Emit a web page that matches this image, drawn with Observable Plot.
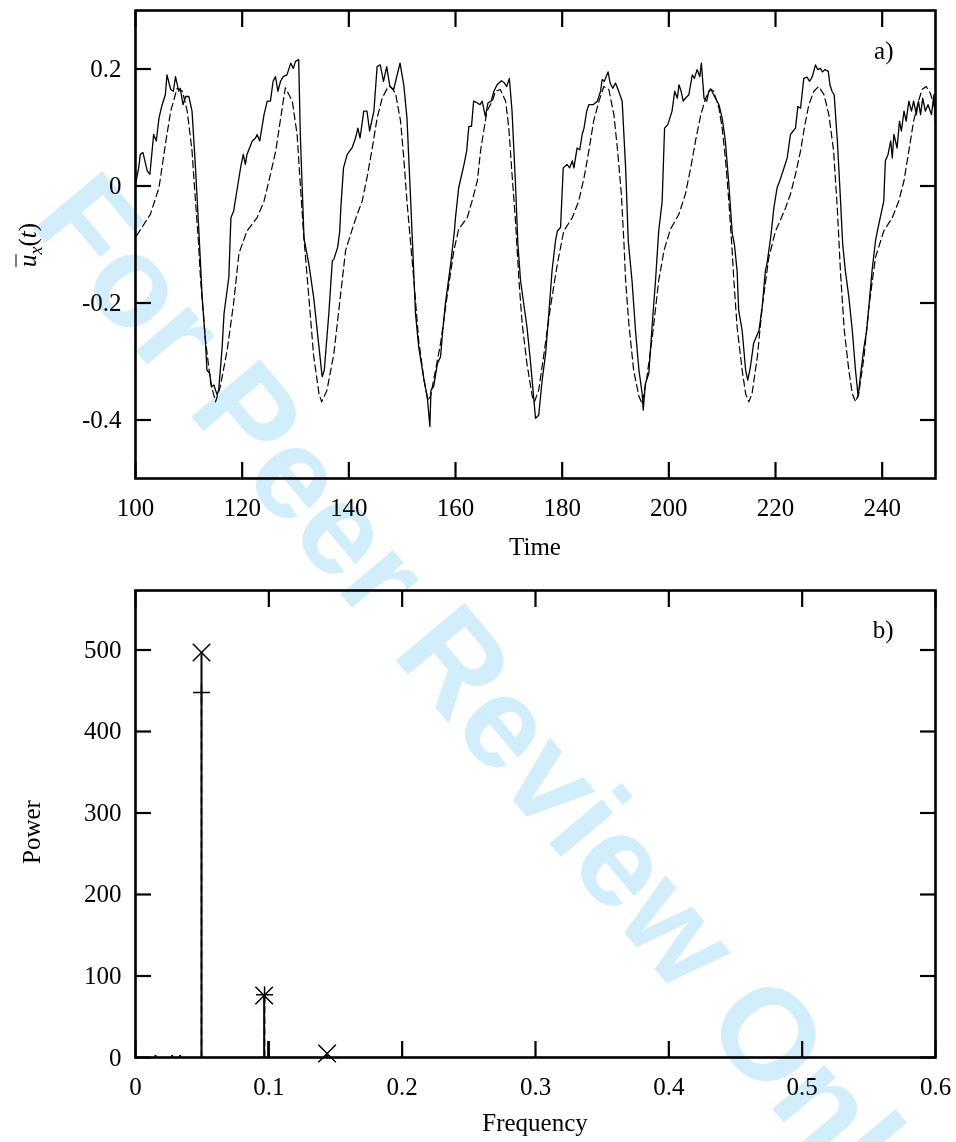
<!DOCTYPE html>
<html>
<head>
<meta charset="utf-8">
<script src="https://cdn.jsdelivr.net/npm/d3@7"></script>
<script src="https://cdn.jsdelivr.net/npm/@observablehq/plot@0.6"></script>
<style>
  html, body { margin: 0; padding: 0; background: #fff; }
  #wrap { position: relative; width: 956px; height: 1142px; overflow: hidden; font-family: "Liberation Serif", "DejaVu Serif", serif; }
  #wrap svg.plot-svg { position: absolute; left: 0; }
  .lbl { position: absolute; font-size: 25px; white-space: nowrap; color: #000; }
  #wm { position: absolute; left: 0; top: 0; pointer-events: none; mix-blend-mode: multiply; }
</style>
</head>
<body>
<div id="wrap"></div>
<script>
// ---------- Panel a) : time series ----------
const timeSolid = [100,100.6,100.9,101.4,102.2,102.7,103.4,103.9,104.4,105.0,105.6,105.9,106.6,107.1,107.5,108.1,108.4,108.9,109.4,110.0,110.6,111.25,111.9,112.5,113.1,113.4,113.9,114.25,114.7,115.3,115.6,116.25,116.6,117.5,117.8,117.9,118.4,119.1,119.7,120.2,120.6,120.9,121.9,122.5,122.8,123.3,124.1,124.7,125.3,125.8,126.25,126.7,127.2,127.7,128.4,129.1,129.6,130.0,130.6,130.9,131.6,132.5,133.4,134.4,135.0,135.4,136.25,136.9,137.2,137.9,138.3,138.5,139.0,139.7,140.6,141.25,141.7,142.1,142.8,143.4,143.9,144.7,145.3,145.9,146.5,147.1,147.7,148.4,149.6,150.3,150.9,151.6,151.9,152.5,153.1,154.1,154.7,155.2,155.4,155.9,156.6,157.2,157.5,158.1,159.1,159.8,160.0,160.6,160.9,161.6,162.1,162.5,163.0,163.4,164.1,164.6,165.0,165.6,166.1,166.7,167.2,167.8,168.6,169.2,169.6,170.1,170.6,171.25,171.7,172.2,173.4,174.1,174.7,175.0,175.6,176.25,176.9,177.5,178.1,178.75,179.1,179.7,180.2,180.9,181.4,181.9,182.2,182.8,183.3,183.75,184.1,184.6,185.0,185.8,186.6,187.2,187.5,187.9,188.6,189.0,189.5,190.0,190.6,191.25,191.9,192.4,193.1,193.75,194.4,195.0,195.2,195.6,196.25,196.9,197.5,198.1,198.75,199.2,199.8,200.6,201.1,201.6,201.9,202.3,202.7,203.1,203.75,204.4,204.8,205.3,205.8,206.1,206.6,207.1,207.5,207.9,208.75,209.4,210.0,210.6,211.25,211.9,212.3,212.8,213.1,213.75,214.4,214.8,215.3,215.9,216.9,217.5,218.1,218.4,219.1,219.7,220.3,220.8,221.6,222.2,222.8,223.3,223.75,224.2,224.7,225.3,225.9,226.4,226.9,227.5,227.9,228.4,228.8,229.3,229.9,230.2,230.6,231.0,231.6,232.2,232.6,233.1,233.75,234.4,235.0,235.5,235.9,236.6,237.1,237.5,238.1,238.75,239.1,240.3,240.6,241.1,241.6,241.9,242.2,242.8,243.25,243.6,244.1,244.5,245.0,245.5,245.9,246.4,246.8,247.2,247.6,248.1,248.6,249.25,249.7,250.0];
const uxSolid = [0.003,0.031,0.054,0.057,0.026,0.020,0.088,0.077,0.116,0.139,0.156,0.190,0.165,0.162,0.187,0.162,0.167,0.139,0.153,0.153,0.128,0.031,-0.080,-0.190,-0.264,-0.315,-0.320,-0.343,-0.340,-0.357,-0.349,-0.275,-0.218,-0.156,-0.077,-0.054,-0.043,-0.003,0.031,0.054,0.037,0.054,0.077,0.082,0.088,0.077,0.122,0.145,0.145,0.179,0.187,0.162,0.179,0.187,0.190,0.210,0.201,0.213,0.216,0.088,-0.090,-0.133,-0.190,-0.275,-0.326,-0.315,-0.218,-0.128,-0.125,-0.105,-0.077,-0.037,0.031,0.054,0.065,0.082,0.099,0.082,0.128,0.128,0.094,0.128,0.204,0.207,0.179,0.204,0.170,0.165,0.210,0.173,0.116,-0.026,-0.090,-0.218,-0.275,-0.332,-0.360,-0.411,-0.349,-0.343,-0.304,-0.292,-0.258,-0.201,-0.133,-0.077,-0.054,-0.003,0.009,0.037,0.060,0.102,0.102,0.145,0.142,0.139,0.145,0.119,0.142,0.145,0.162,0.173,0.180,0.176,0.170,0.184,0.128,0.003,-0.100,-0.162,-0.241,-0.304,-0.366,-0.397,-0.392,-0.332,-0.286,-0.218,-0.145,-0.094,-0.077,-0.071,0.031,0.037,0.031,0.043,0.031,0.065,0.062,0.088,0.099,0.128,0.139,0.139,0.145,0.162,0.182,0.179,0.195,0.176,0.167,0.176,0.162,0.145,0.031,-0.095,-0.162,-0.247,-0.315,-0.355,-0.383,-0.338,-0.320,-0.235,-0.162,-0.077,-0.026,0.099,0.105,0.128,0.162,0.150,0.173,0.162,0.145,0.150,0.156,0.190,0.184,0.199,0.187,0.210,0.150,0.145,0.162,0.165,0.150,0.139,0.116,0.077,0.003,-0.082,-0.100,-0.145,-0.213,-0.247,-0.315,-0.332,-0.309,-0.269,-0.247,-0.207,-0.145,-0.133,-0.088,-0.037,-0.003,0.009,0.031,0.048,0.088,0.094,0.099,0.136,0.133,0.184,0.186,0.179,0.187,0.207,0.199,0.201,0.195,0.199,0.196,0.173,0.162,0.156,0.077,-0.026,-0.100,-0.145,-0.190,-0.247,-0.315,-0.360,-0.326,-0.275,-0.247,-0.207,-0.145,-0.094,-0.077,-0.026,0.043,0.054,0.077,0.048,0.088,0.065,0.111,0.094,0.128,0.111,0.145,0.128,0.145,0.122,0.145,0.122,0.150,0.128,0.139,0.122,0.156,0.105];

const timeDashed = [100.2,102.8,104.4,105.6,106.6,107.8,108.8,109.7,110.6,111.25,111.8,112.2,113.1,114.1,115.0,115.9,117.2,118.4,119.4,120.9,122.8,124.1,125.3,126.3,127.5,128.1,129.4,130.3,130.9,131.5,132.5,133.4,134.4,134.9,135.9,137.2,138.4,139.4,140.6,141.5,142.5,143.4,144.4,145.3,146.25,147.2,147.8,148.75,149.7,150.3,150.9,151.6,152.2,153.1,154.1,154.8,155.3,156.25,157.2,158.4,159.7,160.6,162.2,163.1,164.1,164.7,165.3,165.9,166.9,167.5,168.4,169.4,170.0,170.6,171.25,171.9,172.5,173.4,174.4,174.8,175.6,176.6,177.8,179.1,180.3,181.9,183.1,184.1,185.0,185.9,186.9,187.8,188.75,189.7,190.4,191.1,191.6,191.9,192.5,193.4,194.4,195.0,195.9,196.9,198.1,199.1,200.3,201.9,203.1,204.1,205.0,206.0,206.9,207.8,208.4,209.4,210.0,210.6,211.25,211.8,212.2,212.8,213.75,214.4,215.0,215.6,216.6,217.5,218.75,220.0,220.6,221.9,222.8,223.75,224.7,225.4,226.25,227.2,228.1,229.1,230.0,230.9,231.6,232.2,232.9,233.75,234.4,235.0,235.6,236.6,237.5,238.75,240.3,241.9,243.1,244.1,245.0,245.9,246.8,247.5,248.25,249.0,249.7,250.0];
const uxDashed = [-0.085,-0.048,-0.003,0.071,0.128,0.167,0.162,0.128,0.060,-0.026,-0.095,-0.160,-0.262,-0.337,-0.369,-0.343,-0.280,-0.200,-0.115,-0.077,-0.054,-0.026,0.020,0.060,0.133,0.168,0.145,0.088,0.003,-0.080,-0.190,-0.290,-0.355,-0.369,-0.349,-0.286,-0.190,-0.110,-0.075,-0.050,-0.026,0.014,0.065,0.116,0.150,0.167,0.170,0.159,0.111,0.048,-0.026,-0.100,-0.162,-0.264,-0.332,-0.366,-0.360,-0.315,-0.269,-0.190,-0.110,-0.074,-0.054,-0.026,0.009,0.060,0.094,0.128,0.145,0.162,0.165,0.145,0.099,0.020,-0.060,-0.162,-0.235,-0.304,-0.360,-0.369,-0.349,-0.286,-0.207,-0.133,-0.077,-0.054,-0.026,0.014,0.060,0.111,0.145,0.170,0.165,0.122,0.060,-0.014,-0.100,-0.162,-0.235,-0.315,-0.360,-0.372,-0.326,-0.258,-0.162,-0.110,-0.074,-0.048,-0.014,0.031,0.077,0.122,0.150,0.166,0.162,0.133,0.099,0.048,-0.026,-0.100,-0.162,-0.241,-0.315,-0.355,-0.369,-0.355,-0.292,-0.207,-0.122,-0.077,-0.065,-0.037,-0.014,0.020,0.060,0.099,0.139,0.162,0.170,0.156,0.122,0.060,-0.040,-0.150,-0.247,-0.315,-0.355,-0.369,-0.355,-0.292,-0.207,-0.122,-0.077,-0.054,-0.026,0.009,0.060,0.111,0.145,0.165,0.170,0.159,0.139,0.125];

const timeTicks = [100,120,140,160,180,200,220,240];
const uxTicks = [-0.4,-0.2,0,0.2];

// ---------- Panel b) : power spectrum ----------
const freqSolid = [0.0495,0.0965,0.1437];
const powerSolid = [497,76,5];
const freqDashed = [0.0495,0.0968];
const powerDashed = [448,77];
const freqMinor = [0.0150,0.0275,0.0335,0.0995];
const powerMinor = [2.5,2.5,2.5,19.5];

const freqTicks = [0,0.1,0.2,0.3,0.4,0.5,0.6];
const powerTicks = [0,100,200,300,400,500];

const FONT = "Liberation Serif";
const TS = -16; // inward ticks

function framedAxes(xTicks, yTicks, yFmt) {
  const common = {fontSize: 25, fontFamily: FONT, strokeWidth: 2.2, label: null};
  return [
    Plot.axisX(xTicks, {...common, anchor: "bottom", tickSize: TS, tickPadding: 20 - TS, tickFormat: d => String(d)}),
    Plot.axisX(xTicks, {...common, anchor: "top", tickSize: TS, tickFormat: () => ""}),
    Plot.axisY(yTicks, {...common, anchor: "left", tickSize: TS, tickPadding: 14 - TS, tickFormat: yFmt}),
    Plot.axisY(yTicks, {...common, anchor: "right", tickSize: TS, tickFormat: () => ""}),
    Plot.frame({stroke: "black", strokeWidth: 2.6})
  ];
}

const solidRows = timeSolid.map((t, i) => ({t, u: uxSolid[i]}));
const dashedRows = timeDashed.map((t, i) => ({t, u: uxDashed[i]}));

const plotA = Plot.plot({
  width: 956, height: 570,
  marginTop: 10, marginBottom: 92, marginLeft: 135, marginRight: 21,
  style: {fontFamily: FONT, fontSize: "25px", background: "transparent"},
  x: {domain: [100, 250]},
  y: {domain: [-0.5, 0.3]},
  marks: [
    Plot.line(dashedRows, {x: "t", y: "u", stroke: "black", strokeWidth: 1.2, strokeDasharray: "7,4", clip: true}),
    Plot.line(solidRows, {x: "t", y: "u", stroke: "black", strokeWidth: 1.3, clip: true}),
    ...framedAxes(timeTicks, uxTicks, d => String(d)),
    Plot.text(["a)"], {frameAnchor: "top-right", dx: -42, dy: 31, textAnchor: "end", lineAnchor: "top", fontSize: 25, fontFamily: FONT, fill: "black"})
  ]
});

const solidSpec = freqSolid.map((f, i) => ({f, p: powerSolid[i]}));
const dashedSpec = freqDashed.map((f, i) => ({f, p: powerDashed[i]}));
const minorSpec = freqMinor.map((f, i) => ({f, p: powerMinor[i]}));

const plotB = Plot.plot({
  width: 956, height: 572,
  marginTop: 20, marginBottom: 85, marginLeft: 135, marginRight: 21,
  style: {fontFamily: FONT, fontSize: "25px", background: "transparent"},
  x: {domain: [0, 0.6]},
  y: {domain: [0, 573]},
  marks: [
    Plot.ruleX(minorSpec, {x: "f", y1: 0, y2: "p", stroke: "black", strokeWidth: 2}),
    Plot.ruleX(solidSpec, {x: "f", y1: 0, y2: "p", stroke: "black", strokeWidth: 2}),
    Plot.ruleX(dashedSpec, {x: "f", y1: 0, y2: "p", stroke: "black", strokeWidth: 1.5, strokeDasharray: "7,4"}),
    Plot.dot(solidSpec, {x: "f", y: "p", symbol: "times", r: 8, stroke: "black", strokeWidth: 1.5}),
    Plot.dot(dashedSpec, {x: "f", y: "p", symbol: "plus", r: 5.5, stroke: "black", strokeWidth: 1.5}),
    ...framedAxes(freqTicks, powerTicks, d => String(d)),
    Plot.text(["b)"], {frameAnchor: "top-right", dx: -42, dy: 30, textAnchor: "end", lineAnchor: "top", fontSize: 25, fontFamily: FONT, fill: "black"})
  ]
});

const wrap = document.getElementById("wrap");
plotA.classList.add("plot-svg");
plotB.classList.add("plot-svg");
plotA.style.top = "0px";
plotB.style.top = "570px";
wrap.appendChild(plotA);
wrap.appendChild(plotB);

function addLabel(html, cx, cy, rotate) {
  const d = document.createElement("div");
  d.className = "lbl";
  d.innerHTML = html;
  d.style.left = cx + "px";
  d.style.top = cy + "px";
  d.style.transform = "translate(-50%,-50%)" + (rotate ? " rotate(-90deg)" : "");
  wrap.appendChild(d);
}
addLabel("Time", 535, 547, false);
addLabel("Frequency", 535, 1123, false);
addLabel("Power", 32, 832, true);
addLabel('<span style="font-style:italic;display:inline-block;border-top:1.5px solid #000;line-height:0.62em;padding-top:3px;">u</span><sub style="font-style:italic;font-size:18px;">x</sub>(<i>t</i>)', 30, 245, true);

// watermark
const ns = "http://www.w3.org/2000/svg";
const wm = document.createElementNS(ns, "svg");
wm.setAttribute("id", "wm");
wm.setAttribute("width", 956);
wm.setAttribute("height", 1142);
const wt = document.createElementNS(ns, "text");
wt.setAttribute("x", 28);
wt.setAttribute("y", 222);
wt.setAttribute("transform", "rotate(50,28,222)");
wt.setAttribute("font-family", "Liberation Sans, Arial, sans-serif");
wt.setAttribute("font-weight", "bold");
wt.setAttribute("font-size", 130);
wt.setAttribute("fill", "#d2eefb");
wt.textContent = "For Peer Review Only";
wm.appendChild(wt);
wrap.appendChild(wm);
</script>
</body>
</html>
